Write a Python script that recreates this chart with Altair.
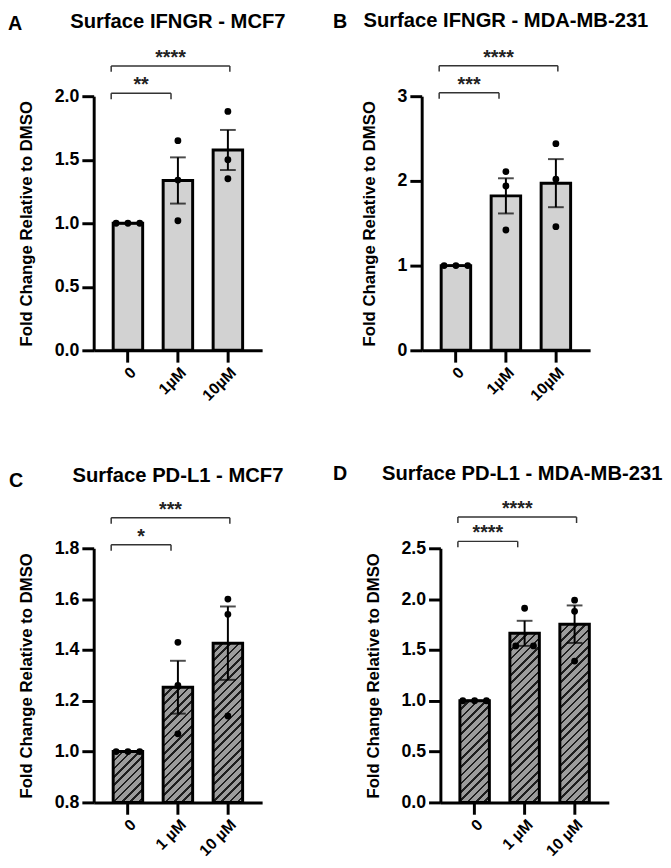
import altair as alt
import pandas as pd

FONT = "Liberation Sans"
YTITLE = "Fold Change Relative to DMSO"

cats_top = ["0", "1µM", "10µM"]
cats_bottom = ["0", "1 µM", "10 µM"]

# replicate fold-change values
a_reps = [[1.00, 1.00, 1.00], [1.65, 1.34, 1.02], [1.88, 1.50, 1.35]]
b_reps = [[1.00, 1.00, 1.00], [2.11, 1.94, 1.42], [2.44, 2.02, 1.46]]
c_reps = [[1.00, 1.00, 1.00], [1.43, 1.26, 1.07], [1.60, 1.54, 1.14]]
d_reps = [[1.00, 1.00, 1.00], [1.91, 1.54, 1.54], [1.99, 1.88, 1.39]]

# significance brackets (0 vs 1 uM, 0 vs 10 uM)
a_sig_labels = ["**", "****"]
a_sig_levels = [2.023, 2.238]
b_sig_labels = ["***", "****"]
b_sig_levels = [3.04, 3.36]
c_sig_labels = ["*", "***"]
c_sig_levels = [1.814, 1.92]
d_sig_labels = ["****", "****"]
d_sig_levels = [2.568, 2.807]

W, H = 171, 258
P_IN, P_OUT = 0.41, 0.39
STEP = W / (3 - P_IN + 2 * P_OUT)
BW = STEP * (1 - P_IN)

# horizontal spread (px) of replicate points that share the same value
TIE_SHIFT = {-1.0: -12, -0.5: -9, 0.0: 0, 0.5: 9, 1.0: 12}


def hatch(w, h, period=8.4, line=2.6, dark="#1e1e1e", light="#9c9c9c"):
    total = w + h
    k = total / (w * w + h * h)
    stops = []
    s = 0.0
    while s < total:
        a = s / total
        b = min((s + line) / total, 1.0)
        c = min((s + period) / total, 1.0)
        stops += [
            {"offset": a, "color": dark},
            {"offset": b, "color": dark},
            {"offset": b, "color": light},
            {"offset": c, "color": light},
        ]
        s += period
    return {"gradient": "linear", "x1": 0, "y1": 0, "x2": k * w, "y2": k * h, "stops": stops}


def make_panel(letter, title, cats, reps, ydom, yticks, yfmt, sig_labels, sig_levels,
               hatched, title_dx, title_dy, letter_dx, letter_dy):
    rows = []
    for c, vals in zip(cats, reps):
        for i, v in enumerate(vals):
            rows.append({"cat": c, "value": v, "rep": i + 1})
    df = pd.DataFrame(rows)

    xs = alt.Scale(type="band", domain=cats, paddingInner=P_IN, paddingOuter=P_OUT)
    xax = alt.Axis(labelAngle=-45, labelAlign="right", labelBaseline="top",
                   labelFontSize=16, labelFontWeight="bold", labelColor="black",
                   labelPadding=2, tickSize=12, tickWidth=3, tickColor="black",
                   domainWidth=3, domainColor="black", grid=False, labelFont=FONT)
    ys = alt.Scale(domain=ydom, nice=False, zero=False)
    yax = alt.Axis(values=yticks, format=yfmt, labelFontSize=18, labelFontWeight="bold",
                   labelColor="black", labelPadding=3, tickSize=12, tickWidth=3,
                   tickColor="black", domainWidth=3, domainColor="black", grid=False,
                   titleFontSize=17, titleFontWeight="bold", titleColor="black",
                   titlePadding=19, labelFont=FONT, titleFont=FONT)

    def X(f):
        return alt.X(f, scale=xs, axis=xax, title=None, sort=cats)

    def Y(f):
        return alt.Y(f, scale=ys, axis=yax, title=YTITLE)

    base = alt.Chart(df)
    layers = []
    if hatched:
        for c, vals in zip(cats, reps):
            mean = sum(vals) / len(vals)
            h = (mean - ydom[0]) / (ydom[1] - ydom[0]) * H
            layers.append(
                base.transform_filter(alt.datum.cat == c)
                .mark_bar(fill=hatch(BW, h), stroke="black", strokeWidth=3)
                .encode(x=X("cat:N"), y=Y("mean(value):Q"))
            )
    else:
        layers.append(
            base.mark_bar(fill="#d2d2d2", stroke="black", strokeWidth=3)
            .encode(x=X("cat:N"), y=Y("mean(value):Q"))
        )

    err = base.mark_errorbar(
        extent="stderr", color="black",
        ticks={"size": 16, "thickness": 2, "color": "black"},
        rule={"strokeWidth": 2, "color": "black"},
    ).encode(x=X("cat:N"), y=Y("value:Q"))
    layers.append(err)

    ties = (
        base.transform_joinaggregate(n_tie="count()", groupby=["cat", "value"])
        .transform_window(tie_idx="row_number()", groupby=["cat", "value"])
        .transform_calculate(dx="datum.tie_idx - (datum.n_tie + 1) / 2")
    )
    for slot, shift in TIE_SHIFT.items():
        layers.append(
            ties.transform_filter(alt.datum.dx == slot)
            .mark_circle(size=48, color="black", opacity=1, xOffset=shift)
            .encode(x=X("cat:N"), y=Y("value:Q"))
        )

    sig = pd.DataFrame({
        "start": [cats[0], cats[0]],
        "end": [cats[1], cats[2]],
        "level": sig_levels,
        "label": sig_labels,
        "kind": ["short", "long"],
    })
    right_off = {"short": -7, "long": 2}
    label_off = {"short": (STEP - 24) / 2, "long": (2 * STEP - 15) / 2}
    for kind in ["short", "long"]:
        sb = alt.Chart(sig).transform_filter(alt.datum.kind == kind)
        layers.append(
            sb.mark_rule(color="#333333", strokeWidth=1.5, xOffset=-17, x2Offset=right_off[kind])
            .encode(x=X("start:N"), x2=alt.X2("end:N"), y=Y("level:Q"))
        )
        layers.append(
            sb.mark_rule(color="#333333", strokeWidth=1.5, xOffset=-17, y2Offset=6)
            .encode(x=X("start:N"), y=Y("level:Q"), y2=alt.Y2("level:Q"))
        )
        layers.append(
            sb.mark_rule(color="#333333", strokeWidth=1.5, xOffset=right_off[kind], y2Offset=6)
            .encode(x=X("end:N"), y=Y("level:Q"), y2=alt.Y2("level:Q"))
        )
        layers.append(
            sb.mark_text(font=FONT, fontSize=20, fontWeight="bold", color="#222222",
                         baseline="alphabetic", align="center", dy=-2, dx=label_off[kind])
            .encode(x=X("start:N"), y=Y("level:Q"), text="label:N")
        )

    heads = pd.DataFrame({"letter": [letter], "title": [title]})
    layers.append(
        alt.Chart(heads).mark_text(
            font=FONT, fontSize=20, fontWeight="bold", color="black",
            align="left", baseline="alphabetic", x=letter_dx, y=letter_dy,
        ).encode(text="letter:N")
    )
    layers.append(
        alt.Chart(heads).mark_text(
            font=FONT, fontSize=20.5, fontWeight="bold", color="black",
            align="center", baseline="alphabetic", x=W / 2 + title_dx, y=title_dy,
        ).encode(text="title:N")
    )

    return alt.layer(*layers).properties(width=W, height=H)


pa = make_panel("A", "Surface IFNGR - MCF7", cats_top, a_reps, [0, 2.0],
                [0, 0.5, 1.0, 1.5, 2.0], ".1f", a_sig_labels, a_sig_levels,
                False, 0, -69, -87, -67)
pb = make_panel("B", "Surface IFNGR - MDA-MB-231", cats_top, b_reps, [0, 3],
                [0, 1, 2, 3], "d", b_sig_labels, b_sig_levels,
                False, 0, -70, -90, -69)
pc = make_panel("C", "Surface PD-L1 - MCF7", cats_bottom, c_reps, [0.8, 1.8],
                [0.8, 1.0, 1.2, 1.4, 1.6, 1.8], ".1f", c_sig_labels, c_sig_levels,
                True, 0, -67, -86, -62)
pd_ = make_panel("D", "Surface PD-L1 - MDA-MB-231", cats_bottom, d_reps, [0, 2.5],
                 [0, 0.5, 1.0, 1.5, 2.0, 2.5], ".1f", d_sig_labels, d_sig_levels,
                 True, -2.5, -69, -109, -69)

top = alt.hconcat(pa, pb, spacing=48)
bottom = alt.hconcat(pc, pd_, spacing=50)
pad = {"top": -3, "left": 0, "right": 0, "bottom": 0}
chart = (
    alt.vconcat(top, bottom, spacing=62)
    .properties(padding=pad, background="white")
    .configure(font=FONT, padding=pad)
    .configure_view(stroke=None)
)

chart.save("out.html", embed_options={"renderer": "svg", "actions": False})
